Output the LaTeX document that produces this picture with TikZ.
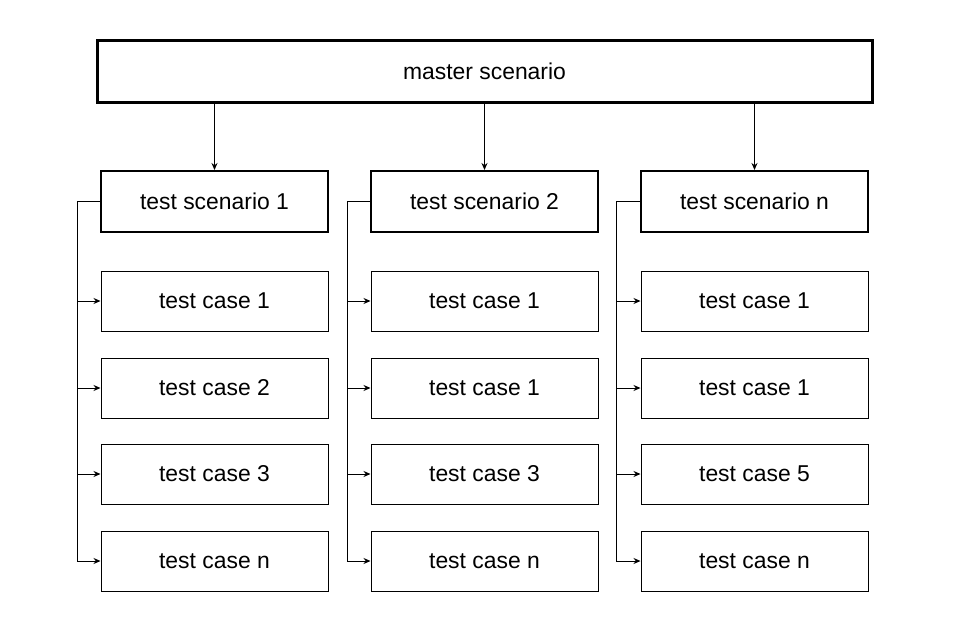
\documentclass[tikz,border=0pt]{standalone}
\usepackage{fontspec}
\setmainfont{Liberation Sans}
\usetikzlibrary{arrows.meta}

\begin{document}
\begin{tikzpicture}[
        x = 1pt, y = -1pt,
        every node/.style = {font=\fontsize{22.9}{27}\selectfont, inner sep=0pt},
        masterbox/.style = {draw, line width=3pt, minimum width=775pt, minimum height=61pt},
        scenariobox/.style = {draw, line width=2pt, minimum width=227pt, minimum height=61pt},
        casebox/.style = {draw, line width=1pt, minimum width=227pt, minimum height=60pt},
        link/.style = {line width=1pt, -{Stealth[length=7pt,width=6pt]}},
        bus/.style = {line width=1pt},
        ]

        \useasboundingbox (0,0) rectangle (968,642);

        % Master
        \node[masterbox] (master) at (484.5,71.5) {master scenario};

        % Scenarios
        \node[scenariobox] (scen1) at (214.5,201.5) {test scenario 1};
        \node[scenariobox] (scen2) at (484.5,201.5) {test scenario 2};
        \node[scenariobox] (scenn) at (754.5,201.5) {test scenario n};

        \draw[link] (scen1.north |- master.south) -- (scen1.north);
        \draw[link] (scen2.north |- master.south) -- (scen2.north);
        \draw[link] (scenn.north |- master.south) -- (scenn.north);

        % Test cases, column 1
        \node[casebox] (case11) at (214.5,301) {test case 1};
        \node[casebox] (case12) at (214.5,388) {test case 2};
        \node[casebox] (case13) at (214.5,474) {test case 3};
        \node[casebox] (case14) at (214.5,561) {test case n};

        % Test cases, column 2
        \node[casebox] (case21) at (484.5,301) {test case 1};
        \node[casebox] (case22) at (484.5,388) {test case 1};
        \node[casebox] (case23) at (484.5,474) {test case 3};
        \node[casebox] (case24) at (484.5,561) {test case n};

        % Test cases, column n
        \node[casebox] (case31) at (754.5,301) {test case 1};
        \node[casebox] (case32) at (754.5,388) {test case 1};
        \node[casebox] (case33) at (754.5,474) {test case 5};
        \node[casebox] (case34) at (754.5,561) {test case n};

        % Buses
        \coordinate (bus1) at (77,201.5);
        \coordinate (bus2) at (347,201.5);
        \coordinate (bus3) at (616,201.5);

        \draw[bus] (scen1.west) -- (bus1) -- (bus1 |- case14.west);
        \draw[link] (bus1 |- case11.west) -- (case11.west);
        \draw[link] (bus1 |- case12.west) -- (case12.west);
        \draw[link] (bus1 |- case13.west) -- (case13.west);
        \draw[link] (bus1 |- case14.west) -- (case14.west);

        \draw[bus] (scen2.west) -- (bus2) -- (bus2 |- case24.west);
        \draw[link] (bus2 |- case21.west) -- (case21.west);
        \draw[link] (bus2 |- case22.west) -- (case22.west);
        \draw[link] (bus2 |- case23.west) -- (case23.west);
        \draw[link] (bus2 |- case24.west) -- (case24.west);

        \draw[bus] (scenn.west) -- (bus3) -- (bus3 |- case34.west);
        \draw[link] (bus3 |- case31.west) -- (case31.west);
        \draw[link] (bus3 |- case32.west) -- (case32.west);
        \draw[link] (bus3 |- case33.west) -- (case33.west);
        \draw[link] (bus3 |- case34.west) -- (case34.west);
    \end{tikzpicture}
\end{document}
